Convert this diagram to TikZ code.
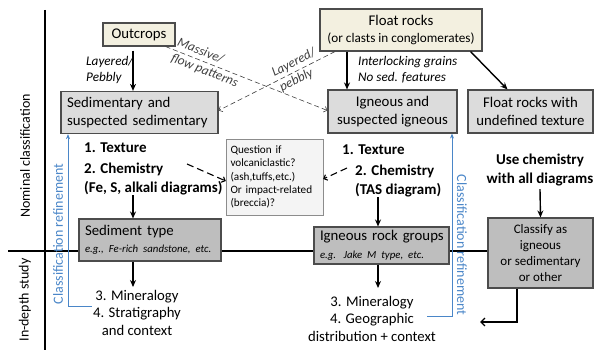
\documentclass[tikz,border=0pt]{standalone}
\usepackage{fontspec}
\setmainfont{Carlito}
\usepackage{tikz}
\usetikzlibrary{arrows.meta, positioning}
\definecolor{creamfill}{HTML}{F3F0E0}
\definecolor{lightfill}{HTML}{DCDCDC}
\definecolor{darkfill}{HTML}{BEBEBE}
\definecolor{notefill}{HTML}{F4F4F4}
\definecolor{refblue}{HTML}{4A86C8}

\begin{document}
\begin{tikzpicture}[x=1pt, y=-1pt,
  box/.style={rectangle, draw=black!70, line width=1.1pt, align=center,
              inner sep=6pt, font=\fontsize{14.8}{17.5}\selectfont},
  topbox/.style={box, fill=creamfill},
  classbox/.style={box, fill=lightfill},
  groupbox/.style={box, fill=darkfill},
  notebox/.style={rectangle, draw=black!45, fill=notefill, align=left,
              inner sep=4.5pt, font=\fontsize{11.2}{13.4}\selectfont},
  steptext/.style={inner sep=0pt, align=left, font=\fontsize{15}{19}\selectfont\bfseries},
  hint/.style={inner sep=0pt, align=left, font=\fontsize{13.2}{16}\selectfont\itshape},
  plain/.style={inner sep=0pt, align=center, font=\fontsize{14.7}{17.5}\selectfont},
  sidetext/.style={plain, font=\fontsize{14}{16}\selectfont},
  refinetext/.style={sidetext, text=refblue},
  arrow/.style={-{Stealth[length=7pt, width=6pt]}, line width=1.4pt},
  backarrow/.style={-{Straight Barb[length=4pt, width=8pt]}, line width=1.4pt},
  thindash/.style={-{Straight Barb[length=3pt, width=6pt]}, black!75, line width=0.6pt, dash pattern=on 5pt off 3pt},
  thickdash/.style={-{Straight Barb[length=3pt, width=6pt]}, line width=1.1pt, dash pattern=on 7pt off 4pt},
  refine/.style={-{Stealth[length=5pt, width=4pt]}, refblue, line width=1pt}
]
\useasboundingbox (0,0) rectangle (595,350);
\draw[line width=1.6pt] (45,10) -- (45,350);
\draw[line width=1.6pt] (8,251) -- (590,251);

\node[sidetext, rotate=90] (nominal) at (25,156) {Nominal classification};
\node[sidetext, rotate=90] (indepth) at (25,300) {In-depth study};

\node[topbox, minimum width=72pt, minimum height=23pt, inner sep=2pt] (outcrops) at (139,34.5) {Outcrops};
\node[topbox, minimum width=162pt, minimum height=42pt, inner sep=2pt] (float) at (401,30) {Float rocks\\{\fontsize{13.2}{15}\selectfont(or clasts in conglomerates)}};
\node[classbox, text width=145pt, minimum height=41pt, align=left] (sed) at (139.5,112.5) {Sedimentary and\\suspected sedimentary};
\node[classbox, minimum width=129pt, minimum height=43pt, inner sep=2pt] (ign) at (392.5,111.5) {Igneous and\\suspected igneous};
\node[classbox, minimum width=125pt, minimum height=43pt, inner sep=2pt] (undef) at (530.5,111.5) {Float rocks with\\undefined texture};
\node[notebox, text width=88pt, minimum height=76pt] (question) at (274.5,177) {Question if\\volcaniclastic?\\(ash,tuffs,etc.)\\Or impact-related\\(breccia)?};
\node[groupbox, text width=136pt, minimum height=42pt, inner sep=3pt, align=left] (sedtype) at (150,240) {\hspace*{3pt}Sediment type\\\hspace*{3pt}{\fontsize{10.8}{14}\selectfont\itshape e.g., Fe-rich sandstone, etc.}};
\node[groupbox, text width=129pt, minimum height=37pt, inner sep=3pt, align=left] (igngroups) at (381.5,245.5) {\hspace*{3pt}Igneous rock groups\\\hspace*{3pt}{\fontsize{10.8}{14}\selectfont\itshape e.g. Jake M type, etc.}};
\node[groupbox, minimum width=105pt, minimum height=70pt, inner sep=2pt, font=\fontsize{13}{15.7}\selectfont] (classify) at (540.5,253) {Classify as\\igneous\\or sedimentary\\or other};

\node[hint, anchor=north west] (layered) at (86,56) {Layered/\\Pebbly};
\node[hint, anchor=north west] (interlock) at (358,56) {Interlocking grains\\No sed. features};
\node[steptext, anchor=west] (sedtex) at (84,148) {1. Texture};
\node[steptext, anchor=north west] (sedchem) at (84,163) {2. Chemistry\\(Fe, S, alkali diagrams)};
\node[steptext, anchor=west] (igntex) at (342,150) {1. Texture};
\node[steptext, anchor=north west] (ignchem) at (355,165) {2. Chemistry\\(TAS diagram)};
\node[steptext, align=center] (usechem) at (540,170) {Use chemistry\\with all diagrams};
\node[plain, anchor=north] (sedmin) at (137,290) {3. Mineralogy\\4. Stratigraphy\\and context};
\node[plain, anchor=north] (ignmin) at (372,296) {3. Mineralogy\\4. Geographic\\distribution + context};
\node[refinetext, rotate=90] (refleft) at (58,234) {Classification refinement};
\node[refinetext, rotate=-90] (refright) at (462,245) {Classification refinement};
\coordinate (ret) at (480,322);

\draw[arrow] ([xshift=-6pt, yshift=-4pt]outcrops.south) -- ([xshift=-6.5pt]sed.north);
\draw[thindash] ([xshift=-10pt]outcrops.south east) -- ([yshift=1pt]ign.west)
  node[hint, sloped, pos=0.26, font=\fontsize{13.2}{17}\selectfont\itshape] (massive) {Massive/\\flow patterns};
\draw[thindash] ([xshift=-66pt]float.south) -- ([yshift=2pt]sed.east)
  node[hint, sloped, pos=0.32, font=\fontsize{13.2}{17}\selectfont\itshape] (pebbly) {Layered/\\pebbly};
\draw[arrow] ([xshift=-54pt]float.south) -- ([xshift=-54pt]float.south |- ign.north);
\draw[arrow] ([xshift=-12pt]float.south east) -- ([xshift=-23pt]undef.north);
\draw[thickdash] ([xshift=103pt, yshift=-1pt]sedchem.north west) -- ([yshift=-4pt]question.west);
\draw[thickdash] ([xshift=-8pt, yshift=-3pt]ignchem.north west) -- ([yshift=-2pt]question.east);
\draw[arrow] ([xshift=-6.5pt]sed.south |- sedchem.south) -- ([xshift=-6.5pt]sed.south |- sedtype.north);
\draw[arrow] ([xshift=-17pt]sedtype.south) -- ([xshift=-17pt, yshift=3pt]sedtype.south |- sedmin.north);
\draw[arrow] ([xshift=-3.5pt]igngroups.north |- ignchem.south) -- ([xshift=-3.5pt]igngroups.north);
\draw[arrow] ([xshift=-3.5pt]igngroups.south) -- ([xshift=-3.5pt, yshift=8pt]igngroups.south |- ignmin.north);
\draw[arrow] ([yshift=-3pt]usechem.south) -- (classify.north);
\draw[backarrow] ([xshift=-23.5pt]classify.south) |- (ret);
\draw[refine] ([xshift=-1pt, yshift=6pt]sedmin.west) -| ([xshift=-71.5pt]sed.south);
\draw[refine] ([xshift=-9pt, yshift=2pt]ignmin.east) -| ([xshift=59.5pt]ign.south);
\end{tikzpicture}
\end{document}
